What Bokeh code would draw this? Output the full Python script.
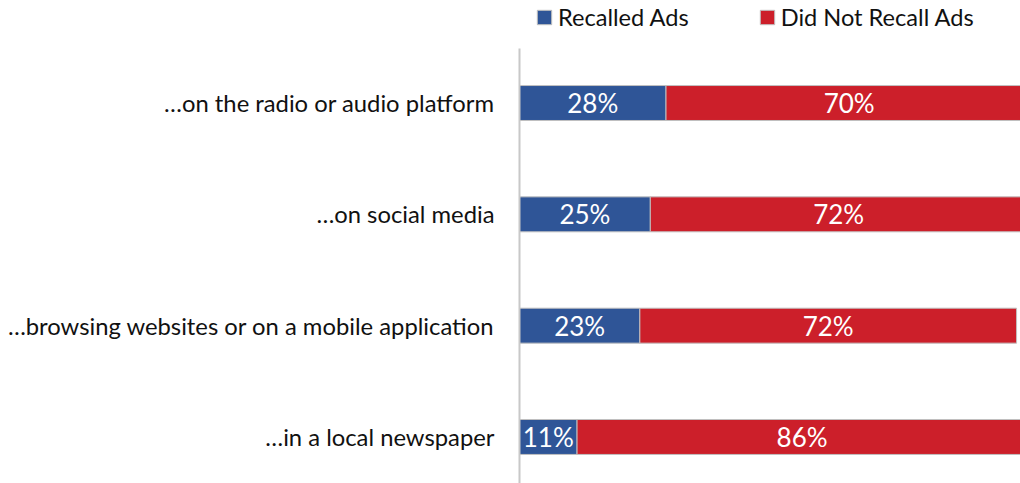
from bokeh.plotting import figure
from bokeh.models import Range1d, FixedTicker, Legend, LegendItem, ColumnDataSource
from bokeh.core.properties import value
from bokeh.embed import file_html
from bokeh.resources import INLINE

categories = [
    "\u2026on the radio or audio platform",
    "\u2026on social media",
    "\u2026browsing websites or on a mobile application",
    "\u2026in a local newspaper",
]
recalled = [28, 25, 23, 11]
not_recalled = [70, 72, 72, 86]
series_names = ["Recalled Ads", "Did Not Recall Ads"]

BLUE = "#2F5597"
RED = "#CC1F2A"
FONT = "Lato"

pos = list(range(len(categories)))
src = ColumnDataSource(dict(
    y=pos,
    r_left=[0] * len(recalled),
    r_right=recalled,
    n_left=recalled,
    n_right=[a + b for a, b in zip(recalled, not_recalled)],
    r_mid=[a / 2 for a in recalled],
    n_mid=[a + b / 2 for a, b in zip(recalled, not_recalled)],
    r_txt=[f"{a}%" for a in recalled],
    n_txt=[f"{b}%" for b in not_recalled],
))

p = figure(width=1020, height=483,
           x_range=Range1d(0, 95.75), y_range=Range1d(3.418, -0.921),
           output_backend="svg", toolbar_location=None,
           min_border_left=519, min_border_right=0,
           min_border_top=0, min_border_bottom=0)

r1 = p.hbar(y="y", left="r_left", right="r_right", height=0.314, source=src,
            fill_color=BLUE, line_color="#c0c0c0", line_width=1)
r2 = p.hbar(y="y", left="n_left", right="n_right", height=0.314, source=src,
            fill_color=RED, line_color="#c0c0c0", line_width=1)

p.text(x="r_mid", y="y", text="r_txt", source=src, text_align="center",
       text_baseline="middle", text_color="white", text_font=value(FONT),
       text_font_size="26px")
p.text(x="n_mid", y="y", text="n_txt", source=src, text_align="center",
       text_baseline="middle", text_color="white", text_font=value(FONT),
       text_font_size="26px")

p.xaxis.visible = False
p.xgrid.visible = False
p.ygrid.visible = False
p.outline_line_color = None

ax = p.yaxis[0]
ax.ticker = FixedTicker(ticks=pos)
ax.major_label_overrides = {i: c for i, c in zip(pos, categories)}
ax.bounds = (-0.49, 3.418)
ax.major_tick_line_color = None
ax.minor_tick_line_color = None
ax.major_tick_out = 0
ax.major_tick_in = 0
ax.axis_line_color = "#c8c8c8"
ax.axis_line_width = 2
ax.major_label_standoff = 25
ax.major_label_text_font = FONT
ax.major_label_text_font_size = "23.8px"
ax.major_label_text_color = "#111111"

legend = Legend(items=[LegendItem(label=series_names[0], renderers=[r1]),
                       LegendItem(label=series_names[1], renderers=[r2])],
                orientation="horizontal", location=(16, 452),
                padding=0, margin=0, spacing=69, label_standoff=5,
                glyph_width=18, glyph_height=18, label_height=22,
                label_text_font=FONT, label_text_font_size="23.6px",
                label_text_color="#111111",
                border_line_color=None, background_fill_alpha=0)
p.add_layout(legend, "center")

open("out.html", "w").write(file_html(p, INLINE))
